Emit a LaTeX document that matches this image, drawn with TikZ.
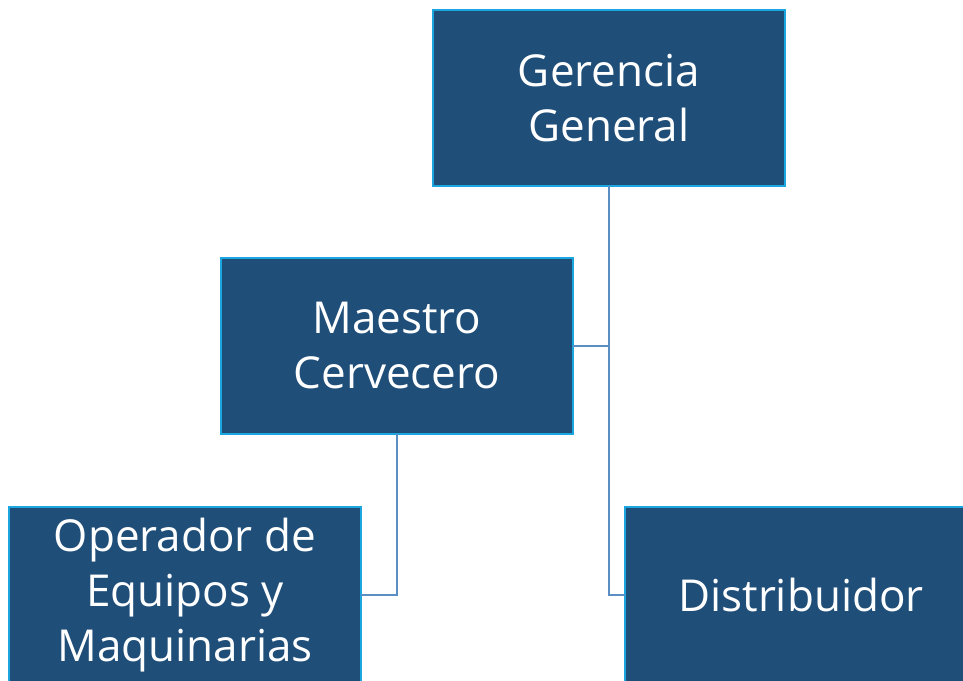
\documentclass[tikz,border=0pt]{standalone}
\usepackage{fontspec}
\setmainfont{Open Sans}
\definecolor{boxfill}{HTML}{1F4E79}
\definecolor{boxedge}{HTML}{1CA6E0}
\definecolor{linkblue}{HTML}{5B8FC4}
\tikzset{
    cargo/.style={rectangle, fill=boxfill, draw=gray!80, double=boxedge,
        double distance=1.2pt, line width=0.6pt, minimum width=352, minimum height=176,
        text=white, align=center, inner sep=0pt, font=\fontsize{44}{55}\selectfont},
    enlace/.style={draw=linkblue, line width=2.8pt}
}
\begin{document}
\begin{tikzpicture}[x=1pt, y=-1pt]
        \useasboundingbox (0,0) rectangle (963,680);

        % cajas
                \node[cargo] (ger) at (609,98) {Gerencia\\General};
                \node[cargo] (mae) at (397,346) {Maestro\\Cervecero};
                \node[cargo] (ope) at (185,595) {Operador de\\Equipos y\\Maquinarias};
                \node[cargo] (dis) at (801,595) {Distribuidor};

        % lineas
                \draw[enlace] (ger.south) |- (dis.west);
                \draw[enlace] (mae.east) -- (mae.east -| ger.south);
                \draw[enlace] (mae.south) |- (ope.east);

\end{tikzpicture}
\end{document}
